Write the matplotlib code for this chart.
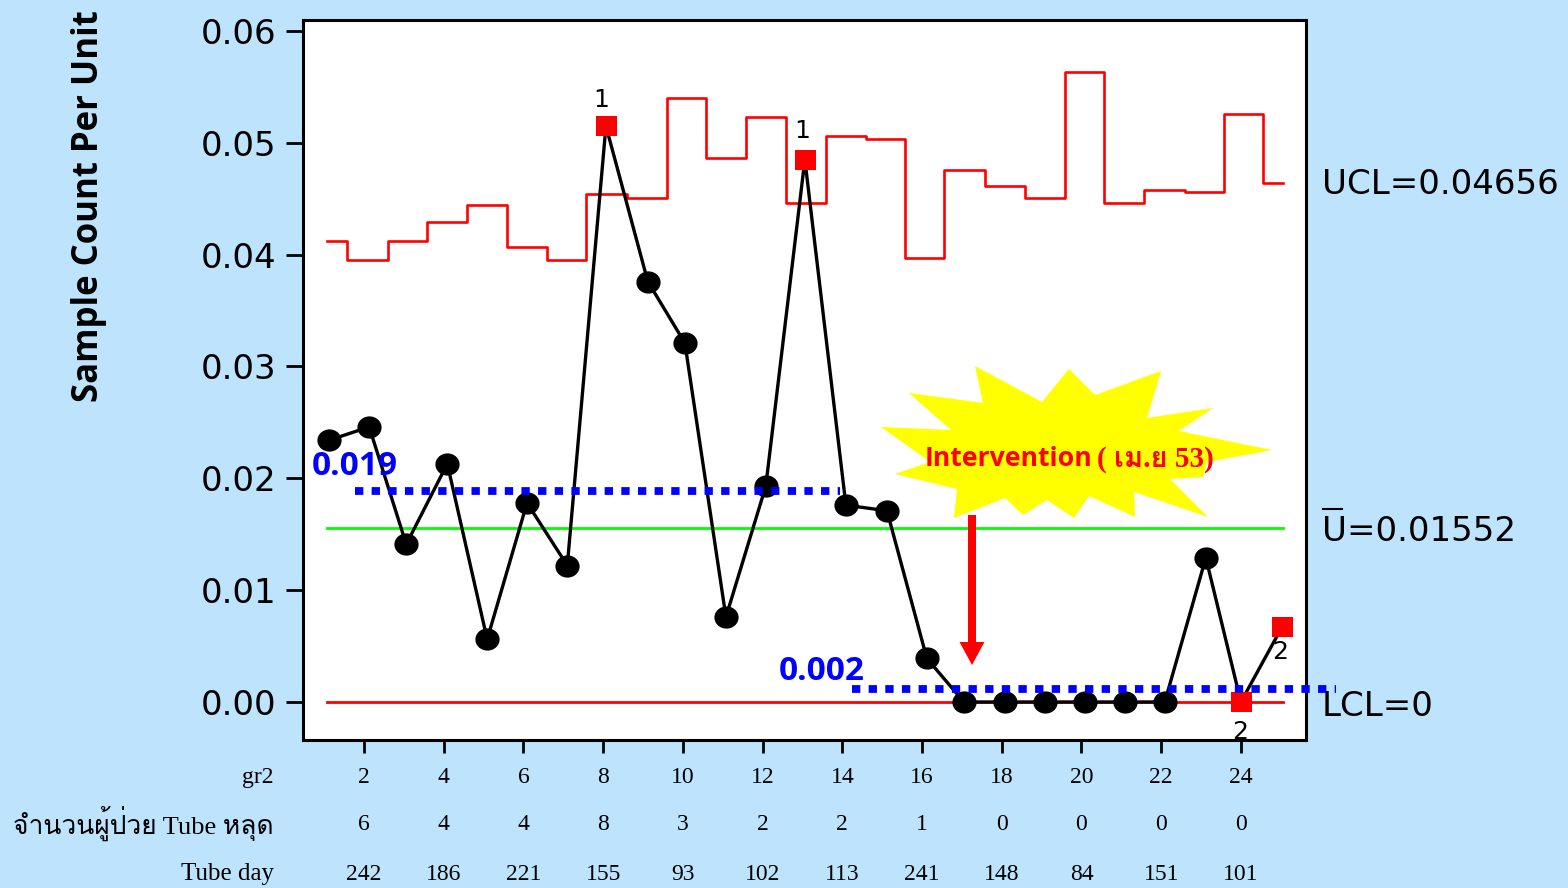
import matplotlib
matplotlib.use('Agg')
import matplotlib.pyplot as plt
from matplotlib.patches import Polygon, FancyArrow
from matplotlib.markers import MarkerStyle
from matplotlib.transforms import Affine2D
from matplotlib import font_manager as fm
from matplotlib.ft2font import FT2Font

samples = [1.12,2.13,3.06,4.09,5.09,6.09,7.10,8.07,9.12,10.05,11.08,12.08,13.06,14.09,15.12,16.12,17.05,18.08,19.08,20.09,21.09,22.09,23.12,24.0,25.03]
u_values = [0.0234,0.0246,0.0141,0.0213,0.0056,0.0178,0.0122,0.0515,0.0376,0.0321,0.0076,0.0193,0.0485,0.0176,0.0171,0.0039,0,0,0,0,0,0,0.0129,0,0.0067]
ucl_x = [1.07,2.09,3.09,4.09,5.09,6.09,7.07,8.09,9.09,10.09,11.09,12.09,13.07,14.09,15.09,16.03,17.09,18.09,19.09,20.09,21.05,22.09,23.09,24.05,25.05]
ucl_values = [0.0412,0.0395,0.0412,0.0429,0.0444,0.0407,0.0395,0.0454,0.0451,0.0540,0.0486,0.0523,0.0446,0.0506,0.0503,0.0397,0.0476,0.0461,0.0451,0.0563,0.0446,0.0458,0.0456,0.0526,0.0464]
red_index = {7:'1', 12:'1', 23:'2', 24:'2'}
center_line = 0.01552
lcl_line = 0.0
pre_mean = 0.01887
post_mean = 0.00116
tick_positions = list(range(2, 25, 2))
gr2_labels = ['2','4','6','8','10','12','14','16','18','20','22','24']
patient_labels = ['6','4','4','8','3','2','2','1','0','0','0','0']
tube_day_labels = ['242','186','221','155','93','102','113','241','148','84','151','101']
y_ticks = [0, 0.01, 0.02, 0.03, 0.04, 0.05, 0.06]
burst_x = [881,951,909,983,975,1042,1069,1095,1161,1147,1213,1179,1272,1207,1203,1170,1208,1134,1135,1089,1074,1047,1023,1005,954,957,895,930]
burst_y = [427,430,393,403,366,402,369,395,371,418,408,431,450,462,477,479,517,492,517,496,518,500,515,498,518,489,474,462]

W, H = 1568, 888
BLUE = '#0000FF'; RED = '#FF0000'; BG = '#BDE3FD'

# any installed family that has Thai letters
thai_fams = []
for f in fm.fontManager.ttflist:
    try:
        cm = FT2Font(f.fname).get_charmap()
    except Exception:
        continue
    if 0x0E08 in cm and 0x0E33 in cm and f.name not in thai_fams:
        thai_fams.append(f.name)

plt.rcParams['font.family'] = ['DejaVu Sans']
fig = plt.figure(figsize=(W/100, H/100), dpi=100, facecolor=BG)
ax = fig.add_axes([303/W, 1-740/H, (1306-303)/W, (740-20)/H])
ax.set_xlim(2-(364-303)/39.86, 2+(1306-364)/39.86)
ax.set_ylim(-38/11180, 0.06+11/11180)
ax.set_facecolor('white')
for s in ax.spines.values():
    s.set_linewidth(2.2); s.set_color('black')

ax.step(ucl_x, ucl_values, where='mid', color=RED, lw=1.9, zorder=2)
ax.plot([1.07, 25.05], [center_line]*2, color='#00FF00', lw=2.0, zorder=2)
ax.plot([1.07, 25.05], [lcl_line]*2, color=RED, lw=2.0, zorder=2)
ax.plot(samples, u_values, color='black', lw=2.4, zorder=4)
oval = MarkerStyle('o', transform=Affine2D().scale(1.09, 1))
box = MarkerStyle('s', transform=Affine2D().scale(1.08, 1))
for i, (x, y) in enumerate(zip(samples, u_values)):
    if i in red_index:
        ax.plot(x, y, marker=box, color=RED, ms=14, mew=0, zorder=6)
    else:
        ax.plot(x, y, marker=oval, color='black', ms=16, mew=0, zorder=5)
dots = (0, (1.07, 1.07))
ax.plot([1.77, 13.94], [pre_mean]*2, color=BLUE, lw=5.6, ls=dots, dash_capstyle='butt', zorder=7)
ax.plot([14.24, 26.38], [post_mean]*2, color=BLUE, lw=5.6, ls=dots, dash_capstyle='butt', zorder=7, clip_on=False)

label_off = {7:(-5,26), 12:(-3,29), 23:(-1,-30), 24:(-2,-25)}
for i, lab in red_index.items():
    ax.annotate(lab, (samples[i], u_values[i]), xytext=label_off[i], textcoords='offset pixels',
                ha='center', va='center', fontsize=18, color='black', zorder=8, annotation_clip=False)

ax.set_xticks(tick_positions)
ax.set_xticklabels([])
ax.set_yticks(y_ticks)
ax.set_yticklabels([f'{v:.2f}' for v in y_ticks], fontsize=24.5)
ax.tick_params(axis='x', length=9, width=2)
ax.tick_params(axis='y', length=12, width=2, pad=7)

overlay = fig.add_axes([0,0,1,1], facecolor='none', zorder=3)
overlay.set_axis_off(); overlay.set_xlim(0,W); overlay.set_ylim(H,0)
overlay.add_patch(Polygon(list(zip(burst_x, burst_y)), closed=True, facecolor='#FFFF00', edgecolor='none'))
overlay.add_patch(FancyArrow(972, 515, 0, 150, width=8, head_width=25, head_length=23, length_includes_head=True, color=RED, lw=0))
overlay.text(925, 459, 'Intervention', color=RED, fontsize=19.2, fontweight='bold', family='Open Sans', va='center')
thai_list = ['Liberation Serif'] + thai_fams + ['DejaVu Sans']
overlay.text(1097, 459, '( เม.ย 53)', color=RED, fontsize=21, fontweight='bold', family=thai_list, va='center')
overlay.text(355, 466, '0.019', color=BLUE, fontsize=24, fontweight='bold', family='Open Sans', ha='center', va='center')
overlay.text(822, 671, '0.002', color=BLUE, fontsize=24, fontweight='bold', family='Open Sans', ha='center', va='center')
overlay.text(1322, 184, 'UCL=0.04656', fontsize=24.5, va='center')
overlay.text(1322, 531, 'U=0.01552', fontsize=24.5, va='center')
overlay.plot([1323, 1342], [509, 509], color='black', lw=1.5)
overlay.text(1322, 706, 'LCL=0', fontsize=24.5, va='center')
overlay.text(89, 206, 'Sample Count Per Unit', rotation=90, fontsize=25, fontweight='bold', family='Open Sans', ha='center', va='center')

serif = 'Liberation Serif'
overlay.text(274, 777, 'gr2', fontsize=17, family=serif, ha='right', va='center')
overlay.text(274, 874, 'Tube day', fontsize=18, family=serif, ha='right', va='center')
overlay.text(274, 823, 'จำนวนผู้ป่วย Tube หลุด', fontsize=19, family=thai_list, ha='right', va='center')
for i, t in enumerate(tick_positions):
    px = ax.transData.transform((t, 0))[0]
    overlay.text(px, 777, gr2_labels[i], fontsize=17, family=serif, ha='center', va='center')
    overlay.text(px, 824, patient_labels[i], fontsize=17, family=serif, ha='center', va='center')
    overlay.text(px, 874, tube_day_labels[i], fontsize=17, family=serif, ha='center', va='center')

fig.savefig('out.png', dpi=100, facecolor=fig.get_facecolor())
